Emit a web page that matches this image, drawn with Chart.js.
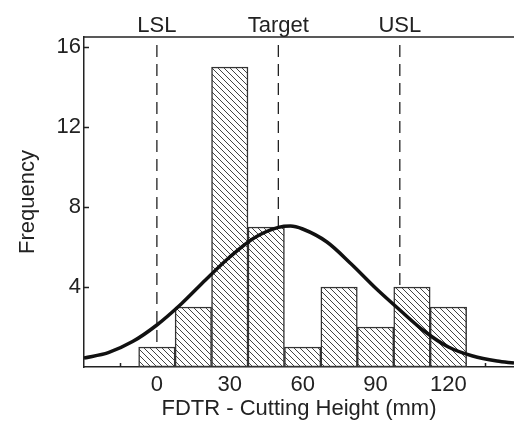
<!DOCTYPE html>
<html>
<head>
<meta charset="utf-8">
<script src="https://cdn.jsdelivr.net/npm/chart.js@4/dist/chart.umd.min.js"></script>
<style>
  html, body { margin: 0; padding: 0; background: #fff; }
  canvas { display: block; }
</style>
</head>
<body>
<canvas id="histChart" width="514" height="422"></canvas>
<script>
// histogram bins (centre, mm) and counts
const binCenters = [0, 15, 30, 45, 60, 75, 90, 105, 120];
const binCounts = [1, 3, 15, 7, 1, 4, 2, 4, 3];

// fitted normal curve
const curveX = [-30, -20, -10, 0, 10, 20, 30, 40, 50, 55, 60, 70, 80, 90, 100, 110, 120, 130, 140, 147];
const curveY = [0.45, 0.72, 1.27, 2.1, 3.15, 4.35, 5.5, 6.45, 6.98, 7.05, 6.9, 6.25, 5.15, 3.95, 2.85, 1.8, 1.0, 0.55, 0.3, 0.2];

// spec limits
const specNames = ['LSL', 'Target', 'USL'];
const specValues = [0, 50, 100];

// tick labels and tick marks
const xTickLabels = [0, 30, 60, 90, 120];
const xTicksMinor = [-15, 0, 15, 30, 45, 60, 75, 90, 105, 120, 135];
const yTickLabels = [4, 8, 12, 16];

const FONT = '"Liberation Sans", Arial, sans-serif';
const INK = '#222';
const SIZE = 22;

// hatch pattern "\\\\" on white
function makeHatch() {
  const s = 6;
  const c = document.createElement('canvas');
  c.width = s; c.height = s;
  const g = c.getContext('2d');
  g.fillStyle = '#fff';
  g.fillRect(0, 0, s, s);
  g.strokeStyle = '#444';
  g.lineWidth = 1;
  g.beginPath();
  g.moveTo(0, 0); g.lineTo(s, s);
  g.moveTo(-1, s - 1); g.lineTo(1, s + 1);
  g.moveTo(s - 1, -1); g.lineTo(s + 1, 1);
  g.stroke();
  return g.createPattern(c, 'repeat');
}

// frame top line, inward tick marks, spec labels
const frameTicks = {
  id: 'frameTicks',
  beforeDatasetsDraw(chart) {
    const { ctx, chartArea: a, scales } = chart;
    ctx.save();
    ctx.strokeStyle = INK;
    ctx.lineWidth = 1.5;
    ctx.beginPath();
    xTicksMinor.forEach(v => {
      const px = Math.round(scales.x.getPixelForValue(v)) + 0.5;
      ctx.moveTo(px, a.bottom);
      ctx.lineTo(px, a.bottom - 4);
    });
    yTickLabels.forEach(v => {
      const py = Math.round(scales.y.getPixelForValue(v)) + 0.5;
      ctx.moveTo(a.left, py);
      ctx.lineTo(a.left + 5, py);
    });
    ctx.stroke();
    ctx.beginPath();
    ctx.moveTo(a.left, a.top);
    ctx.lineTo(chart.width, a.top);
    ctx.stroke();
    ctx.restore();
  },
  afterDraw(chart) {
    const { ctx, scales } = chart;
    ctx.save();
    ctx.fillStyle = INK;
    ctx.font = SIZE + 'px ' + FONT;
    ctx.textAlign = 'center';
    ctx.textBaseline = 'alphabetic';
    specNames.forEach((name, i) => {
      ctx.fillText(name, scales.x.getPixelForValue(specValues[i]), 32);
    });
    ctx.restore();
  }
};

// dashed spec lines, drawn top-down so the dash starts just under the frame
const specSets = specValues.map(v => ({
  type: 'line',
  data: [{ x: v, y: 16.1 }, { x: v, y: 0 }],
  borderColor: INK,
  borderWidth: 1.3,
  borderDash: [12, 7],
  pointRadius: 0,
  order: 3
}));

new Chart(document.getElementById('histChart'), {
  type: 'bar',
  data: {
    datasets: [
      ...specSets,
      {
        type: 'bar',
        data: binCenters.map((x, i) => ({ x, y: binCounts[i] })),
        backgroundColor: makeHatch(),
        borderColor: '#333',
        borderWidth: 1.5,
        borderSkipped: false,
        barPercentage: 1,
        categoryPercentage: 1,
        order: 2
      },
      {
        type: 'line',
        data: curveX.map((x, i) => ({ x, y: curveY[i] })),
        borderColor: '#111',
        borderWidth: 3.5,
        pointRadius: 0,
        cubicInterpolationMode: 'monotone',
        order: 1
      }
    ]
  },
  options: {
    responsive: false,
    animation: false,
    layout: { padding: { top: 37, left: 0, right: 0, bottom: 0 } },
    plugins: { legend: { display: false }, tooltip: { enabled: false } },
    scales: {
      x: {
        type: 'linear',
        offset: false,
        min: -30,
        max: 147,
        grid: { display: false, drawTicks: false },
        border: { display: true, color: INK, width: 1.5 },
        afterBuildTicks: s => { s.ticks = xTickLabels.map(value => ({ value })); },
        ticks: {
          autoSkip: false,
          maxRotation: 0,
          padding: 5,
          color: INK,
          font: { family: FONT, size: SIZE }
        },
        title: {
          display: true,
          text: 'FDTR - Cutting Height (mm)',
          color: INK,
          font: { family: FONT, size: SIZE },
          padding: { top: 0, bottom: 0 }
        },
        afterFit: s => { s.height = 55; }
      },
      y: {
        min: 0,
        max: 16.5,
        grid: { display: false, drawTicks: false },
        border: { display: true, color: INK, width: 1.5 },
        afterBuildTicks: s => { s.ticks = yTickLabels.map(value => ({ value })); },
        ticks: {
          padding: 3,
          color: INK,
          font: { family: FONT, size: SIZE }
        },
        title: {
          display: true,
          text: 'Frequency',
          color: INK,
          font: { family: FONT, size: SIZE },
          padding: { top: 15, bottom: 0 }
        },
        afterFit: s => { s.width = 84; }
      }
    }
  },
  plugins: [frameTicks]
});
</script>
</body>
</html>
